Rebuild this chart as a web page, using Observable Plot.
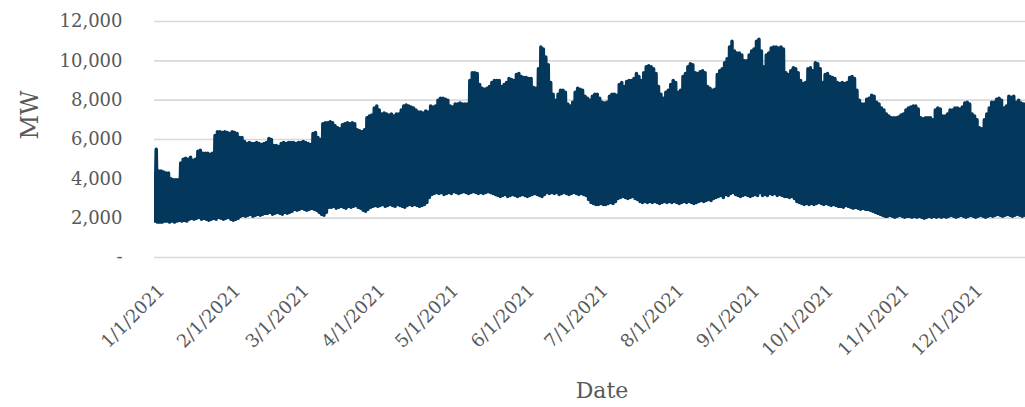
<!DOCTYPE html>
<html>
<head>
<meta charset="utf-8">
<script src="https://cdn.jsdelivr.net/npm/d3@7"></script>
<script src="https://cdn.jsdelivr.net/npm/@observablehq/plot@0.6"></script>
<style>
  html, body { margin: 0; padding: 0; background: #fff; }
  #chart { width: 1025px; height: 407px; overflow: hidden; }
</style>
</head>
<body>
<div id="chart"></div>
<script>
// Daily peak load (MW), 1/1/2021 onward (one value per day)
const dailyMax = [
  5500, 4400, 4400, 4350, 4300, 4300, 4000,
  3950, 3950, 3950, 4800, 5000, 5050, 5000,
  5100, 4950, 5000, 5400, 5450, 5300, 5300,
  5300, 5250, 5300, 6200, 6400, 6400, 6350,
  6400, 6350, 6300, 6400, 6350, 6300, 6100,
  6100, 5900, 5800, 5850, 5800, 5800, 5850,
  5800, 5750, 5800, 5850, 6050, 6000, 5700,
  5700, 5650, 5800, 5850, 5800, 5850, 5850,
  5850, 5800, 5850, 5850, 5900, 5850, 5800,
  5750, 6300, 6350, 6100, 6000, 6800, 6850,
  6850, 6900, 6850, 6700, 6600, 6550, 6750,
  6800, 6850, 6800, 6850, 6800, 6500, 6450,
  6400, 6500, 7100, 7200, 7250, 7600, 7700,
  7500, 7300, 7350, 7300, 7250, 7300, 7200,
  7300, 7300, 7500, 7700, 7750, 7700, 7650,
  7600, 7500, 7400, 7400, 7350, 7450, 7400,
  7700, 7650, 7700, 8000, 8100, 8100, 8050,
  8000, 7700, 7650, 7800, 7800, 7850, 7800,
  7800, 7800, 9000, 9400, 9400, 9350, 8800,
  8600, 8550, 8600, 8700, 8900, 9000, 9000,
  9000, 8700, 8800, 8900, 9100, 9050, 9000,
  9300, 9350, 9200, 9150, 9150, 9100, 9100,
  8650, 8600, 9600, 10700, 10600, 10200, 9800,
  8900, 8300, 8000, 8300, 8500, 8500, 8400,
  7800, 7700, 7900, 8400, 8600, 8550, 8500,
  8200, 8100, 8000, 8200, 8300, 8300, 8100,
  7900, 7850, 7900, 8200, 8300, 8300, 8250,
  8800, 8900, 8700, 8950, 9000, 9000, 9100,
  9350, 9200, 9000, 9400, 9700, 9750, 9700,
  9600, 9350, 8700, 8300, 8100, 8400, 8500,
  8800, 9000, 8900, 8400, 8500, 9200, 9350,
  9700, 9850, 9800, 9400, 9350, 9450, 9500,
  9400, 8700, 8600, 8500, 8550, 9300, 9500,
  9600, 9900, 10100, 10700, 11000, 10500, 10400,
  10400, 10300, 10000, 10000, 10300, 10500, 10600,
  11000, 11100, 10500, 9700, 10300, 10400, 10650,
  10700, 10700, 10650, 10700, 10600, 9400, 9300,
  9500, 9650, 9600, 9400, 9000, 8850, 8900,
  9600, 9650, 9500, 9900, 9850, 9600, 8900,
  9300, 9350, 9200, 9150, 9100, 8900, 8850,
  8900, 8850, 8900, 9150, 9200, 9100, 8500,
  8000, 7800, 7800, 8050, 8100, 8250, 8200,
  7900, 7800, 7600, 7500, 7300, 7200, 7100,
  7100, 7100, 7150, 7250, 7300, 7500, 7600,
  7650, 7700, 7700, 7550, 7100, 7050, 7100,
  7100, 7100, 7000, 7500, 7600, 7550, 7200,
  7200, 7300, 7500, 7500, 7600, 7600, 7550,
  7650, 7850, 7900, 7800, 7300, 7200, 7000,
  6600, 6550, 7000, 7300, 7600, 7900, 7900,
  8050, 8100, 8000, 7600, 7700, 8200, 8150,
  8200, 7900, 8000, 7850, 7800, 7800
];

// Daily minimum load (MW), same days
const dailyMin = [
  1850, 1800, 1800, 1800, 1850, 1850, 1800,
  1850, 1800, 1850, 1900, 1850, 1900, 1850,
  1950, 2000, 1950, 2000, 2050, 1950, 2000,
  1950, 1900, 1950, 2000, 1950, 2050, 2000,
  1950, 2000, 2050, 1950, 1900, 1950, 2000,
  2100, 2150, 2100, 2150, 2200, 2100, 2150,
  2200, 2150, 2200, 2250, 2250, 2300, 2200,
  2250, 2300, 2250, 2200, 2300, 2250, 2300,
  2350, 2450, 2400, 2450, 2500, 2450, 2400,
  2450, 2500, 2450, 2400, 2300, 2200, 2150,
  2300, 2550, 2550, 2600, 2500, 2550, 2600,
  2550, 2500, 2600, 2550, 2600, 2650, 2550,
  2500, 2400, 2350, 2450, 2550, 2600, 2650,
  2600, 2650, 2700, 2600, 2650, 2700, 2650,
  2600, 2700, 2650, 2600, 2550, 2650, 2700,
  2650, 2700, 2650, 2600, 2650, 2700, 2800,
  3050, 3200, 3250, 3300, 3250, 3300, 3200,
  3250, 3300, 3250, 3350, 3300, 3250, 3300,
  3350, 3300, 3250, 3300, 3350, 3300, 3250,
  3300, 3250, 3300, 3350, 3300, 3250, 3200,
  3150, 3100, 3150, 3200, 3100, 3150, 3200,
  3150, 3100, 3150, 3200, 3150, 3100, 3150,
  3200, 3250, 3200, 3150, 3100, 3200, 3300,
  3250, 3300, 3250, 3300, 3200, 3250, 3300,
  3250, 3200, 3250, 3300, 3250, 3200, 3250,
  3200, 3150, 2950, 2800, 2750, 2700, 2700,
  2750, 2700, 2700, 2750, 2800, 2750, 2850,
  3000, 3050, 3100, 3050, 3000, 3050, 3100,
  3000, 2950, 2850, 2800, 2850, 2800, 2850,
  2800, 2850, 2800, 2750, 2800, 2850, 2800,
  2850, 2800, 2850, 2800, 2750, 2800, 2850,
  2800, 2850, 2800, 2750, 2800, 2850, 2900,
  2850, 2900, 2950, 2900, 3000, 3050, 3100,
  3150, 3050, 3200, 3150, 3250, 3300, 3200,
  3150, 3100, 3150, 3200, 3150, 3100, 3150,
  3200, 3150, 3300, 3150, 3200, 3150, 3250,
  3200, 3250, 3150, 3200, 3150, 3100, 3100,
  3050, 3100, 3000, 2850, 2800, 2750, 2700,
  2750, 2700, 2750, 2700, 2750, 2800, 2750,
  2700, 2750, 2700, 2650, 2700, 2650, 2600,
  2600, 2550, 2650, 2600, 2550, 2500, 2550,
  2500, 2450, 2500, 2450, 2450, 2400, 2350,
  2300, 2250, 2200, 2150, 2100, 2100, 2150,
  2100, 2050, 2100, 2150, 2100, 2050, 2100,
  2100, 2050, 2100, 2050, 2100, 2050, 2000,
  2050, 2100, 2050, 2100, 2050, 2100, 2050,
  2100, 2050, 2100, 2150, 2100, 2050, 2100,
  2150, 2100, 2050, 2100, 2150, 2100, 2050,
  2100, 2150, 2100, 2050, 2100, 2150, 2100,
  2150, 2200, 2150, 2100, 2150, 2200, 2150,
  2100, 2150, 2200, 2150, 2100, 2150
];

const monthTicks = ["2021-01-01","2021-02-01","2021-03-01","2021-04-01","2021-05-01","2021-06-01",
                    "2021-07-01","2021-08-01","2021-09-01","2021-10-01","2021-11-01","2021-12-01"];
const yTicks = [0, 2000, 4000, 6000, 8000, 10000, 12000];
const xTitle = "Date";
const yTitle = "MW";

const DAY = 864e5;
const start = Date.UTC(2021, 0, 1);
// zig-zag between the night-time minimum and the afternoon peak of each day
const rows = [];
dailyMax.forEach((mx, i) => {
  rows.push({date: new Date(start + i * DAY + 4 * 36e5), mw: dailyMin[i]});
  rows.push({date: new Date(start + i * DAY + 17 * 36e5), mw: mx});
});

const fmtDate = d => `${d.getUTCMonth() + 1}/${d.getUTCDate()}/${d.getUTCFullYear()}`;
const fmtY = d => d === 0 ? "-" : d3.format(",")(d);
const FONT = "DejaVu Serif";
const GREY = "#595959";

const chart = Plot.plot({
  width: 1025,
  height: 407,
  marginTop: 21,
  marginLeft: 154,
  marginRight: 0,
  marginBottom: 150,
  style: {fontFamily: FONT, fontSize: "18px", color: GREY, background: "#fff"},
  x: {type: "utc", domain: [new Date(start), new Date(start + 355.5 * DAY)]},
  y: {domain: [0, 12000]},
  marks: [
    Plot.gridY(yTicks, {stroke: "#d9d9d9", strokeOpacity: 1, strokeWidth: 1.6}),
    Plot.line(rows, {x: "date", y: "mw", stroke: "#03375c", strokeWidth: 3.5,
                     strokeLinejoin: "round", strokeLinecap: "round", clip: true}),
    Plot.axisY(yTicks, {tickSize: 0, tickPadding: 32, tickFormat: fmtY, fontSize: 18,
                        label: null}),
    Plot.axisX(monthTicks.map(s => new Date(s + "T00:00:00Z")), {
      tickSize: 0, tickRotate: -45, tickPadding: 14, tickFormat: fmtDate,
      fontSize: 18, label: null, dx: 7, dy: 16
    }),
    Plot.text([yTitle], {frameAnchor: "left", rotate: -90, dx: -124, fontSize: 24, fill: GREY}),
    Plot.text([xTitle], {frameAnchor: "bottom", dx: 12, dy: 140, fontSize: 22, fill: GREY})
  ]
});
document.getElementById("chart").appendChild(chart);
</script>
</body>
</html>
